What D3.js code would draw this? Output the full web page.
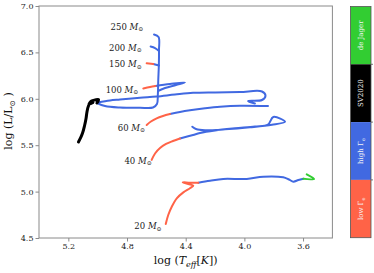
<!DOCTYPE html>
<html><head><meta charset="utf-8">
<script src="https://cdn.jsdelivr.net/npm/d3@7"></script>
<style>body{margin:0;background:#fff}svg{display:block}</style>
</head><body>
<svg id="c" width="374" height="273"></svg>
<script>
// ---- data ----
const xTicks = [5.2, 4.8, 4.4, 4.0, 3.6];
const yTicks = [4.5, 5.0, 5.5, 6.0, 6.5, 7.0];
const phases = ["de Jager", "SV2020", "high", "low"];
const phaseColors = ["#32cd32", "#000000", "#4169e1", "#ff6347"];

// track labels: [mass, logTeff (right end), logL]
const massLabels = [
  ["250", 4.689, 6.777], ["200", 4.700, 6.551], ["150", 4.700, 6.372],
  ["100", 4.723, 6.095], ["60", 4.677, 5.689], ["40", 4.632, 5.333], ["20", 4.564, 4.629]
];

// tracks [logTeff, logL]
const m20_low = [[4.536,4.651],[4.519,4.748],[4.495,4.837],[4.461,4.928],[4.416,4.992],[4.371,5.036],[4.348,5.064],[4.382,5.082],[4.420,5.100],[4.371,5.096],[4.314,5.096]];
const m20_high = [[4.314,5.096],[4.234,5.117],[4.144,5.136],[3.984,5.136],[3.871,5.161],[3.735,5.154],[3.696,5.130],[3.666,5.107],[3.632,5.125],[3.598,5.138]];
const m20_dj = [[3.598,5.138],[3.525,5.136],[3.575,5.186]];

const m40_low = [[4.632,5.341],[4.609,5.411],[4.575,5.470],[4.534,5.513],[4.487,5.545],[4.439,5.572]];
const m40_high = [[4.439,5.572],[4.350,5.610],[4.303,5.631],[4.200,5.658],[4.064,5.682],[3.928,5.702],[3.839,5.723],[3.803,5.804],[3.723,5.753],[3.812,5.720],[3.962,5.693],[4.132,5.671],[4.268,5.661],[4.330,5.675],[4.355,5.699]];

const m60_low = [[4.666,5.718],[4.637,5.755],[4.598,5.790],[4.555,5.815],[4.507,5.836]];
const m60_high = [[4.507,5.836],[4.439,5.858],[4.371,5.876],[4.268,5.898],[4.166,5.915],[4.030,5.926],[3.839,5.922]];

const m100_low = [[4.689,6.111],[4.643,6.127],[4.606,6.138]];
const m100_high = [[4.606,6.138],[4.507,6.159],[4.405,6.176],[4.466,6.149],[4.541,6.116],[4.589,6.084]];
const m100_late = [[4.998,5.960],[4.916,5.982],[4.848,5.992],[4.712,6.011],[4.598,6.025],[4.473,6.046],[4.350,6.064],[4.200,6.069],[4.030,6.073],[3.880,6.079],[3.856,6.034],[3.880,5.987],[3.975,5.976],[3.928,5.949]];

const m150_low = [[4.666,6.383],[4.621,6.375]];
const m150_high = [[4.621,6.375],[4.582,6.359]];
const m200_high = [[4.639,6.564],[4.609,6.547],[4.582,6.515]];
const m250_high = [[4.616,6.693],[4.585,6.666],[4.582,6.526],[4.583,6.364],[4.587,6.203],[4.590,6.041],[4.596,5.944],[4.623,5.906],[4.712,5.903],[4.848,5.906],[4.950,5.922],[5.005,5.955]];
const m250_sv = [[5.005,5.955],[4.994,5.992],[5.018,5.987],[5.042,5.976],[5.059,5.944],[5.049,5.949],[5.032,5.960],[5.046,5.966],[5.063,5.922],[5.073,5.858],[5.080,5.782],[5.090,5.707],[5.103,5.631],[5.117,5.578],[5.131,5.534]];

// ---- drawing ----
const svg = d3.select("#c");
const x = d3.scaleLinear().domain([5.4, 3.4]).range([39, 332.4]);
const y = d3.scaleLinear().domain([4.5, 7.0]).range([238, 6]);
const col = d3.scaleOrdinal().domain(phases).range(phaseColors);
const serif = "DejaVu Serif, serif";

const segs = [
  [m250_high,"high"],[m200_high,"high"],[m150_high,"high"],[m100_high,"high"],[m100_late,"high"],
  [m60_high,"high"],[m40_high,"high"],[m20_high,"high"],
  [m150_low,"low"],[m100_low,"low"],[m60_low,"low"],[m40_low,"low"],[m20_low,"low"],
  [m250_sv,"SV2020"],[m20_dj,"de Jager"]
];
const line = d3.line().x(d => x(d[0])).y(d => y(d[1])).curve(d3.curveCatmullRom.alpha(0.5));
svg.append("g").selectAll("path").data(segs).join("path")
  .attr("d", d => line(d[0]))
  .attr("fill", "none")
  .attr("stroke", d => col(d[1]))
  .attr("stroke-width", d => d[1] === "SV2020" ? 3 : 2)
  .attr("stroke-linejoin", "round").attr("stroke-linecap", "round");

// frame
svg.append("rect").attr("x", 39).attr("y", 6).attr("width", 332.4 - 39).attr("height", 232)
  .attr("fill", "none").attr("stroke", "#8a8a8a").attr("stroke-width", 1);

// axes
const gx = svg.append("g").attr("transform", "translate(0,238)")
  .call(d3.axisBottom(x).tickValues(xTicks).tickFormat(d3.format(".1f")).tickSize(3.5).tickPadding(2));
const gy = svg.append("g").attr("transform", "translate(39,0)")
  .call(d3.axisLeft(y).tickValues(yTicks).tickFormat(d3.format(".1f")).tickSize(3.5).tickPadding(2));
[gx, gy].forEach(g => {
  g.select(".domain").remove();
  g.selectAll(".tick line").attr("stroke", "#8a8a8a");
  g.selectAll(".tick text").attr("fill", "#222").style("font-family", serif).style("font-size", "8px");
});

// axis titles
const xt = svg.append("text").attr("x", 185.7).attr("y", 264).attr("text-anchor", "middle")
  .style("font-family", serif).style("font-size", "11px").attr("fill", "#111");
xt.append("tspan").text("log (");
xt.append("tspan").attr("font-style", "italic").text("T");
xt.append("tspan").attr("font-style", "italic").attr("font-size", "8px").attr("dy", 2.5).text("eff");
xt.append("tspan").attr("dy", -2.5).text("[");
xt.append("tspan").attr("font-style", "italic").text("K");
xt.append("tspan").text("])");

const yt = svg.append("text").attr("transform", "translate(12,121) rotate(-90)").attr("text-anchor", "middle")
  .style("font-family", serif).style("font-size", "11px").attr("fill", "#111");
yt.append("tspan").text("log (L/L");
yt.append("tspan").attr("font-size", "7.5px").attr("dy", 2.5).text("⊙");
yt.append("tspan").attr("dy", -2.5).text(" )");

// mass labels
const ml = svg.append("g").selectAll("text").data(massLabels).join("text")
  .attr("x", d => x(d[1])).attr("y", d => y(d[2]) + 3)
  .attr("text-anchor", "end").style("font-family", serif).style("font-size", "8.5px").attr("fill", "#222");
ml.append("tspan").text(d => d[0] + " ");
ml.append("tspan").attr("font-style", "italic").text("M");
ml.append("tspan").attr("font-size", "6px").attr("dy", 1.5).text("⊙");

// colorbar legend
const cb = d3.scaleBand().domain(phases).range([6.5, 237.7]);
const cbg = svg.append("g");
cbg.selectAll("rect").data(phases).join("rect")
  .attr("x", 350.5).attr("y", d => cb(d)).attr("width", 20.5).attr("height", cb.bandwidth())
  .attr("fill", d => col(d));
cbg.append("rect").attr("x", 350.5).attr("y", 6.5).attr("width", 20.5).attr("height", 231.2)
  .attr("fill", "none").attr("stroke", "#555").attr("stroke-width", 0.8);
cbg.selectAll("line").data(phases.slice(1)).join("line")
  .attr("x1", 371).attr("x2", 373).attr("y1", d => cb(d)).attr("y2", d => cb(d))
  .attr("stroke", "#555").attr("stroke-width", 0.8);
const ct = cbg.selectAll("text.cl").data(phases).join("text").attr("class", "cl")
  .attr("transform", d => `translate(363.3,${cb(d) + cb.bandwidth() / 2}) rotate(-90)`)
  .attr("text-anchor", "middle").style("font-family", serif).style("font-size", "7px").attr("fill", "#f4f4f4");
ct.each(function(d) {
  const t = d3.select(this);
  if (d === "high" || d === "low") {
    t.append("tspan").text(d + " Γ");
    t.append("tspan").attr("font-size", "5px").attr("dy", 1.5).text("e");
  } else t.text(d);
});
</script>
</body></html>
